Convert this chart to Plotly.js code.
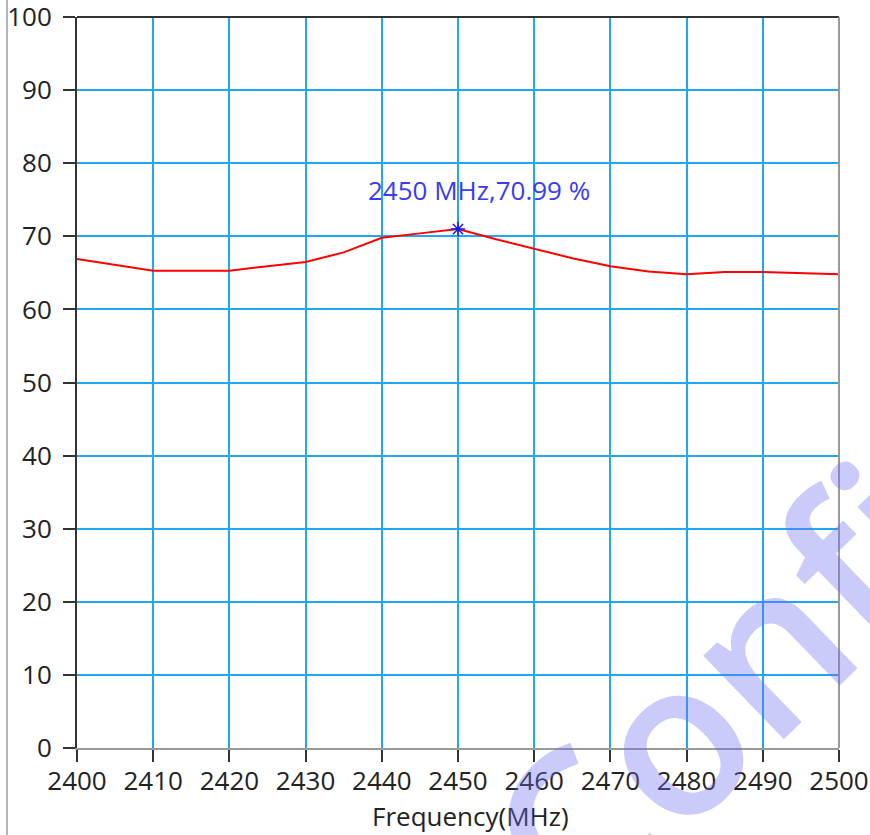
<!DOCTYPE html>
<html>
<head>
<meta charset="utf-8">
<script src="https://cdn.plot.ly/plotly-3.0.1.min.js"></script>
<style>html,body{margin:0;padding:0;background:#fff;}#chart{width:870px;height:835px;}</style>
</head>
<body>
<div id="chart"></div>
<script>
// Data
var freq = [2400, 2405, 2410, 2415, 2420, 2425, 2430, 2435, 2440, 2445, 2450, 2455, 2460, 2465, 2470, 2475, 2480, 2485, 2490, 2495, 2500];
var efficiency = [66.9, 66.1, 65.3, 65.3, 65.3, 65.9, 66.5, 67.8, 69.8, 70.4, 70.99, 69.6, 68.3, 67.0, 65.9, 65.2, 64.8, 65.1, 65.1, 64.9, 64.8];
var markerX = [2450];
var markerY = [70.99];
var markerLabel = "2450 MHz,70.99 %";
var xTicks = [2400, 2410, 2420, 2430, 2440, 2450, 2460, 2470, 2480, 2490, 2500];
var yTicks = [0, 10, 20, 30, 40, 50, 60, 70, 80, 90, 100];
var xTitle = "Frequency(MHz)";
var watermark = "Confidential";

var FONT = "Open Sans, Noto Sans, sans-serif";
var FS = 26;

var traces = [
  {
    x: freq, y: efficiency, type: "scatter", mode: "lines",
    line: {color: "#ff0000", width: 2},
    hoverinfo: "x+y", showlegend: false
  },
  {
    x: markerX, y: markerY, type: "scatter", mode: "markers",
    marker: {symbol: "asterisk-open", size: 12, color: "#1a1aee", line: {color: "#1a1aee", width: 1.5}},
    showlegend: false
  }
];

var layout = {
  width: 870, height: 835, autosize: false,
  margin: {l: 77, r: 31, t: 17, b: 87, pad: 0},
  paper_bgcolor: "#ffffff", plot_bgcolor: "#ffffff",
  font: {family: FONT, size: FS, color: "#222222"},
  showlegend: false,
  xaxis: {
    range: [2400, 2500], tickvals: xTicks, ticktext: xTicks.map(String),
    showgrid: true, gridcolor: "#1ea7f5", gridwidth: 2,
    zeroline: false, showline: true, linecolor: "#9a9a9a", linewidth: 2,
    ticks: "outside", ticklen: 12, tickwidth: 2, tickcolor: "#333333",
    ticklabelstandoff: -3, ticklabeloverflow: "allow",
    tickfont: {family: FONT, size: FS, color: "#222222"}
  },
  yaxis: {
    range: [0, 100], tickvals: yTicks, ticktext: yTicks.map(String),
    showgrid: true, gridcolor: "#1ea7f5", gridwidth: 2,
    zeroline: false, showline: true, linecolor: "#333333", linewidth: 2,
    ticks: "outside", ticklen: 12, tickwidth: 2, tickcolor: "#333333",
    ticklabelstandoff: 6, ticklabeloverflow: "allow",
    tickfont: {family: FONT, size: FS, color: "#222222"}
  },
  shapes: [
    {type: "line", xref: "paper", yref: "paper", x0: 0, x1: 1, y0: 1, y1: 1, line: {color: "#333333", width: 2}},
    {type: "line", xref: "paper", yref: "paper", x0: 1, x1: 1, y0: 0, y1: 1, line: {color: "#9a9a9a", width: 2}},
    {type: "line", xref: "paper", yref: "paper", x0: -0.0919, x1: -0.0919, y0: -0.12, y1: 1.03, line: {color: "#b4b4b4", width: 2}}
  ],
  annotations: [
    {
      x: markerX[0], y: markerY[0], xref: "x", yref: "y", text: markerLabel, showarrow: false,
      xshift: 21, yshift: 39, font: {family: FONT, size: FS, color: "#3b3bf0"}
    },
    {
      x: 0.517, y: -0.093, xref: "paper", yref: "paper", text: xTitle, showarrow: false,
      xanchor: "center", yanchor: "middle", font: {family: FONT, size: FS, color: "#222222"}
    },
    {
      x: 1.18, y: 0.425, xref: "paper", yref: "paper", text: watermark, showarrow: false,
      textangle: -44, xanchor: "center", yanchor: "middle",
      font: {family: FONT, size: 215, weight: 600, color: "rgba(110,110,245,0.36)"}
    }
  ]
};

Plotly.newPlot("chart", traces, layout, {staticPlot: true, displayModeBar: false});
</script>
</body>
</html>
